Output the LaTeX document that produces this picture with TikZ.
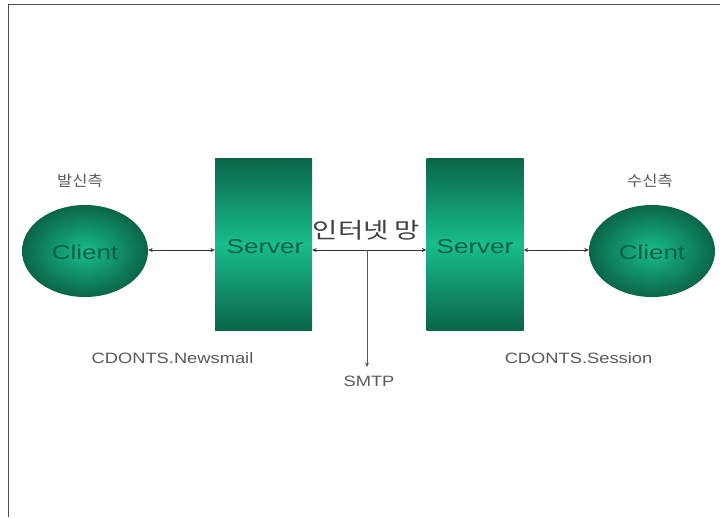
\documentclass[tikz,border=0pt]{standalone}
\usepackage{fontspec}
\setmainfont{Liberation Sans}
\newfontfamily\kr{Noto Sans CJK KR}
\usetikzlibrary{arrows.meta,shapes.geometric}
\definecolor{gdark}{HTML}{0A6549}
\definecolor{glight}{HTML}{19BC8C}
\definecolor{gtext}{HTML}{0A6244}
\definecolor{lbl}{HTML}{5A5A5A}
\tikzset{
  srv/.style={rectangle, minimum width=97pt, minimum height=172pt, inner sep=0pt,
    top color=gdark, bottom color=gdark, middle color=glight, shading angle=0},
  cli/.style={ellipse, minimum width=126pt, minimum height=92pt, inner sep=0pt,
    inner color=glight, outer color=gdark},
  shapetxt/.style={text=gtext, font=\fontsize{20}{22}\selectfont, xscale=1.3, inner sep=0pt},
  lab/.style={text=lbl, font=\fontsize{15}{17}\selectfont, inner sep=0pt, xscale=1.22},
  krlab/.style={text=lbl, font=\kr\fontsize{15}{17}\selectfont, inner sep=0pt, xscale=1.1},
  conn/.style={draw=black!80, line width=0.6pt, {Stealth[length=4.5pt,width=4pt]}-{Stealth[length=4.5pt,width=4pt]}},
  oneway/.style={draw=black!65, line width=0.6pt, -{Stealth[length=4.5pt,width=4pt]}}
}
\begin{document}
\begin{tikzpicture}[x=1pt,y=-1pt]
\useasboundingbox (0,0) rectangle (720,517);
\fill[white] (0,0) rectangle (720,517);
\draw[black!70, line width=1.2pt] (8.5,517) -- (8.5,4.5) -- (720,4.5);
\node[cli] (c1) at (85,251) {};
\node[shapetxt] at (85,252) {Client};
\node[srv] (s1) at (263.5,244) {};
\node[shapetxt] at (265,247) {Server};
\node[srv] (s2) at (475,244) {};
\node[shapetxt] at (475,247) {Server};
\node[cli] (c2) at (652,251) {};
\node[shapetxt] at (652,252) {Client};
\coordinate (j) at (367,250);
\coordinate (smtpend) at (367,367);
\draw[conn] (c1.east |- 0,250) -- (s1.west |- 0,250);
\draw[conn] (s1.east |- 0,250) -- (s2.west |- 0,250);
\draw[conn] (s2.east |- 0,250) -- (c2.west |- 0,250);
\draw[oneway] (j) -- (smtpend);
\node[krlab] (snd) at (80,181) {발신측};
\node[krlab] (rcv) at (650,181) {수신측};
\node[text=black!75, font=\kr\fontsize{22}{24}\selectfont, inner sep=0pt, xscale=1.25] (net) at (366.5,230) {인터넷 망};
\node[lab] (smtp) at (369,381) {SMTP};
\node[lab] (nm) at (172.5,358) {CDONTS.Newsmail};
\node[lab] (ss) at (578.5,358) {CDONTS.Session};
\end{tikzpicture}
\end{document}
